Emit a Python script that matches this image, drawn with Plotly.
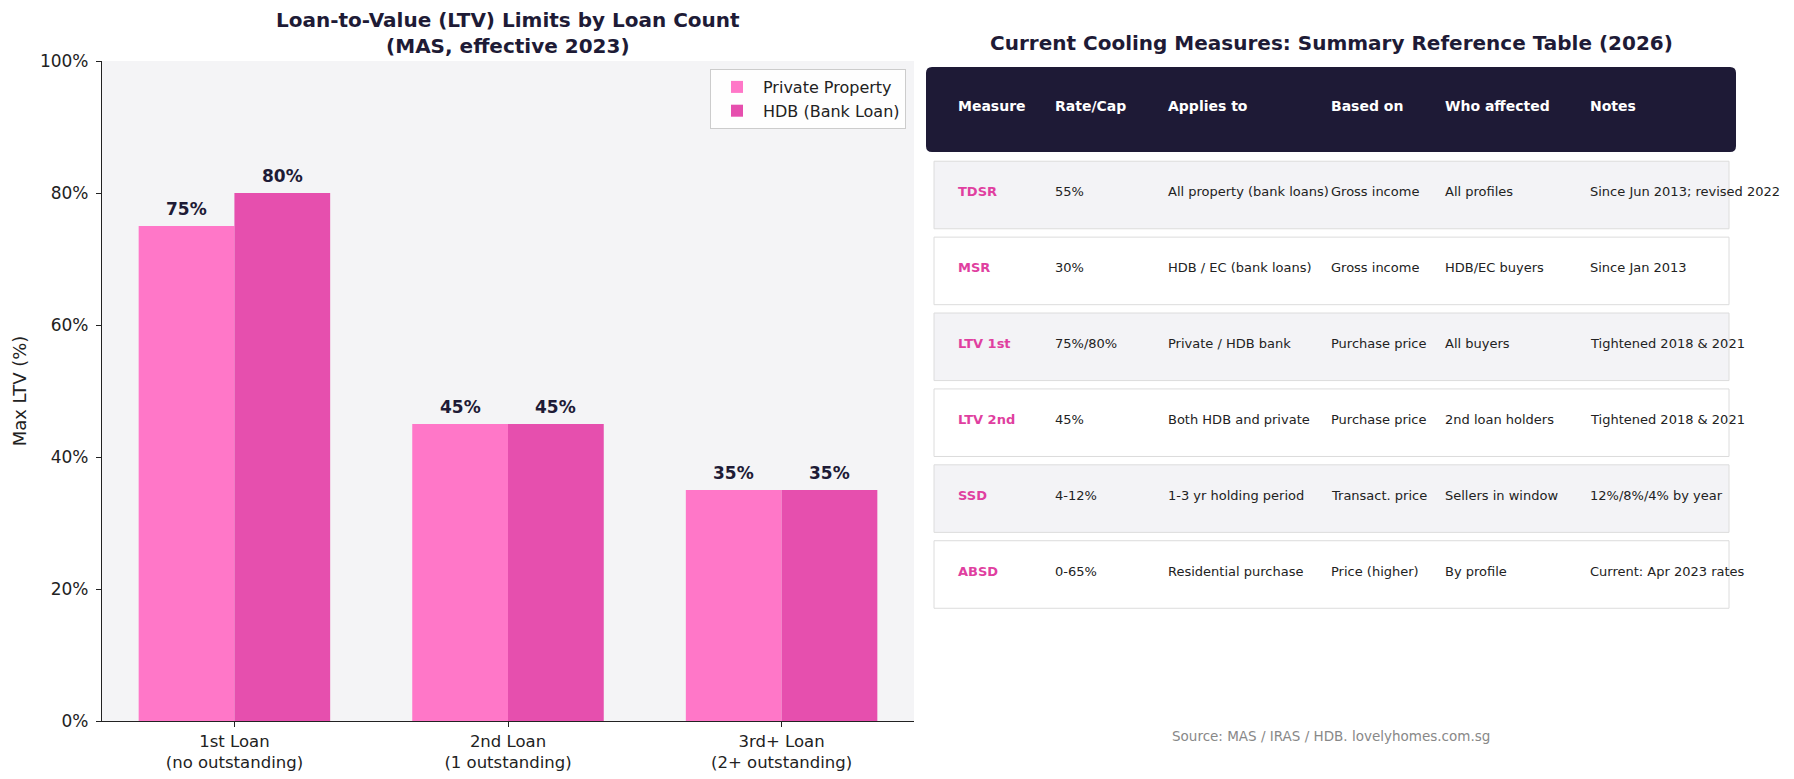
import plotly.graph_objects as go

# ---------------- data ----------------
loan_categories = ["1st Loan<br>(no outstanding)", "2nd Loan<br>(1 outstanding)", "3rd+ Loan<br>(2+ outstanding)"]
private_ltv = [75, 45, 35]
hdb_ltv = [80, 45, 35]
ytick_vals = [0, 20, 40, 60, 80, 100]

table_headers = ["Measure", "Rate/Cap", "Applies to", "Based on", "Who affected", "Notes"]
measures = ["TDSR", "MSR", "LTV 1st", "LTV 2nd", "SSD", "ABSD"]
rate_cap = ["55%", "30%", "75%/80%", "45%", "4-12%", "0-65%"]
applies_to = ["All property (bank loans)", "HDB / EC (bank loans)", "Private / HDB bank",
              "Both HDB and private", "1-3 yr holding period", "Residential purchase"]
based_on = ["Gross income", "Gross income", "Purchase price", "Purchase price",
            "Transact. price", "Price (higher)"]
who_affected = ["All profiles", "HDB/EC buyers", "All buyers", "2nd loan holders",
                "Sellers in window", "By profile"]
notes = ["Since Jun 2013; revised 2022", "Since Jan 2013", "Tightened 2018 & 2021",
         "Tightened 2018 & 2021", "12%/8%/4% by year", "Current: Apr 2023 rates"]

# ---------------- styling / layout ----------------
FONT = "DejaVu Sans"
DARK = "#1E1B36"
TXT = "#222222"
C_PRIV = "#FF77C8"
C_HDB = "#E64FAE"
C_MEAS = "#E03FA0"
W, H = 1794, 779
BARGAP = 0.3

col_x = [c - 0.0028 for c in [0.040, 0.159, 0.299, 0.500, 0.641, 0.820]]

fig = go.Figure()

series = [("Private Property", private_ltv, C_PRIV), ("HDB (Bank Loan)", hdb_ltv, C_HDB)]
for name, vals, color in series:
    fig.add_trace(go.Bar(
        x=loan_categories, y=vals, name=name,
        marker=dict(color=color, line=dict(width=0)),
        hoverinfo="skip", xaxis="x", yaxis="y"))

annotations = []
# value labels above bars (positions from the grouped-bar geometry)
bar_w = (1 - BARGAP) / len(series)
for k, (name, vals, color) in enumerate(series):
    offset = -0.5 * (1 - BARGAP) + bar_w * (k + 0.5)
    for i, v in enumerate(vals):
        annotations.append(dict(xref="x", yref="y", x=i + offset, y=v, text=f"<b>{v}%</b>",
                                showarrow=False, xanchor="center", yanchor="middle",
                                yshift=17, font=dict(family=FONT, size=17, color=DARK)))

shapes = []
# left plot background
shapes.append(dict(type="rect", xref="x domain", yref="y domain", x0=0, x1=1, y0=0, y1=1,
                   fillcolor="#F4F4F6", line=dict(width=0), layer="below"))

# rounded table header
x0, x1, y0, y1 = 0.0, 1.0, -1.686, -0.567
rx, ry = 6 / 810, 6 / 75.9
path = (f"M {x0+rx},{y0} L {x1-rx},{y0} Q {x1},{y0} {x1},{y0+ry} "
        f"L {x1},{y1-ry} Q {x1},{y1} {x1-rx},{y1} L {x0+rx},{y1} "
        f"Q {x0},{y1} {x0},{y1-ry} L {x0},{y0+ry} Q {x0},{y0} {x0+rx},{y0} Z")
shapes.append(dict(type="path", xref="x2", yref="y2", path=path,
                   fillcolor="#1E1A36", line=dict(width=0)))

header_y = -1.17
for cx, h in zip(col_x, table_headers):
    annotations.append(dict(xref="x2", yref="y2", x=cx, y=header_y, text=f"<b>{h}</b>",
                            showarrow=False, xanchor="left", yanchor="middle",
                            font=dict(family=FONT, size=14, color="white")))

columns = [measures, rate_cap, applies_to, based_on, who_affected, notes]
for i in range(len(measures)):
    shapes.append(dict(type="rect", xref="x2", yref="y2", x0=8 / 810, x1=803 / 810,
                       y0=i - 0.445, y1=i + 0.445,
                       fillcolor="#F3F3F6" if i % 2 == 0 else "#FFFFFF",
                       line=dict(color="#DCDCDC", width=1), layer="below"))
    for j, (cx, col) in enumerate(zip(col_x, columns)):
        if j == 0:
            txt = f"<b>{col[i]}</b>"
            fnt = dict(family=FONT, size=13, color=C_MEAS)
        else:
            txt = col[i]
            fnt = dict(family=FONT, size=13, color=TXT)
        annotations.append(dict(xref="x2", yref="y2", x=cx, y=i - 0.046, text=txt,
                                showarrow=False, xanchor="left", yanchor="middle", font=fnt))

# titles
annotations.append(dict(xref="paper", yref="paper", x=508 / W, y=1 - 32.5 / H,
                        text="<b>Loan-to-Value (LTV) Limits by Loan Count<br>(MAS, effective 2023)</b>",
                        showarrow=False, xanchor="center", yanchor="middle",
                        font=dict(family=FONT, size=20, color=DARK)))
annotations.append(dict(xref="paper", yref="paper", x=1331 / W, y=1 - 43 / H,
                        text="<b>Current Cooling Measures: Summary Reference Table (2026)</b>",
                        showarrow=False, xanchor="center", yanchor="middle",
                        font=dict(family=FONT, size=20, color=DARK)))
annotations.append(dict(xref="paper", yref="paper", x=1331 / W, y=1 - 736 / H,
                        text="Source: MAS / IRAS / HDB. lovelyhomes.com.sg",
                        showarrow=False, xanchor="center", yanchor="middle",
                        font=dict(family=FONT, size=13.5, color="#888888")))

fig.update_layout(
    width=W, height=H, margin=dict(l=0, r=0, t=0, b=0, autoexpand=False),
    paper_bgcolor="white", plot_bgcolor="rgba(0,0,0,0)",
    font=dict(family=FONT, color=TXT),
    barmode="group", bargap=BARGAP, bargroupgap=0,
    showlegend=True,
    legend=dict(x=906 / W, y=1 - 69 / H, xanchor="right", yanchor="top",
                bgcolor="rgba(255,255,255,0.85)", bordercolor="#CCCCCC", borderwidth=1,
                font=dict(family=FONT, size=16, color=TXT), itemwidth=42,
                tracegroupgap=0),
    xaxis=dict(domain=[102 / W, 914 / W], range=[-0.484, 2.484], anchor="y",
               automargin=False,
               showline=True, linecolor="#222", linewidth=1.2, ticks="outside",
               ticklen=5, tickcolor="#222", showgrid=False, zeroline=False,
               tickfont=dict(family=FONT, size=16.5, color=TXT)),
    yaxis=dict(domain=[1 - 721 / H, 1 - 61 / H], range=[0, 100], anchor="x",
               automargin=False,
               tickmode="array", tickvals=ytick_vals,
               ticktext=[f"{v}%" for v in ytick_vals],
               showline=True, linecolor="#222",
               linewidth=1.2, ticks="outside", ticklen=5, tickcolor="#222",
               ticklabelstandoff=4,
               showgrid=False, zeroline=False,
               tickfont=dict(family=FONT, size=17, color=TXT),
               title=dict(text="Max LTV (%)", standoff=8,
                          font=dict(family=FONT, size=18, color=TXT))),
    xaxis2=dict(domain=[926 / W, 1736 / W], range=[0, 1], anchor="y2", visible=False,
                automargin=False),
    yaxis2=dict(domain=[1 - 740 / H, 1 - 60 / H], range=[7.1805, -1.7787], anchor="x2",
                visible=False, automargin=False),
    shapes=shapes, annotations=annotations,
)

fig.write_html("out.html")
